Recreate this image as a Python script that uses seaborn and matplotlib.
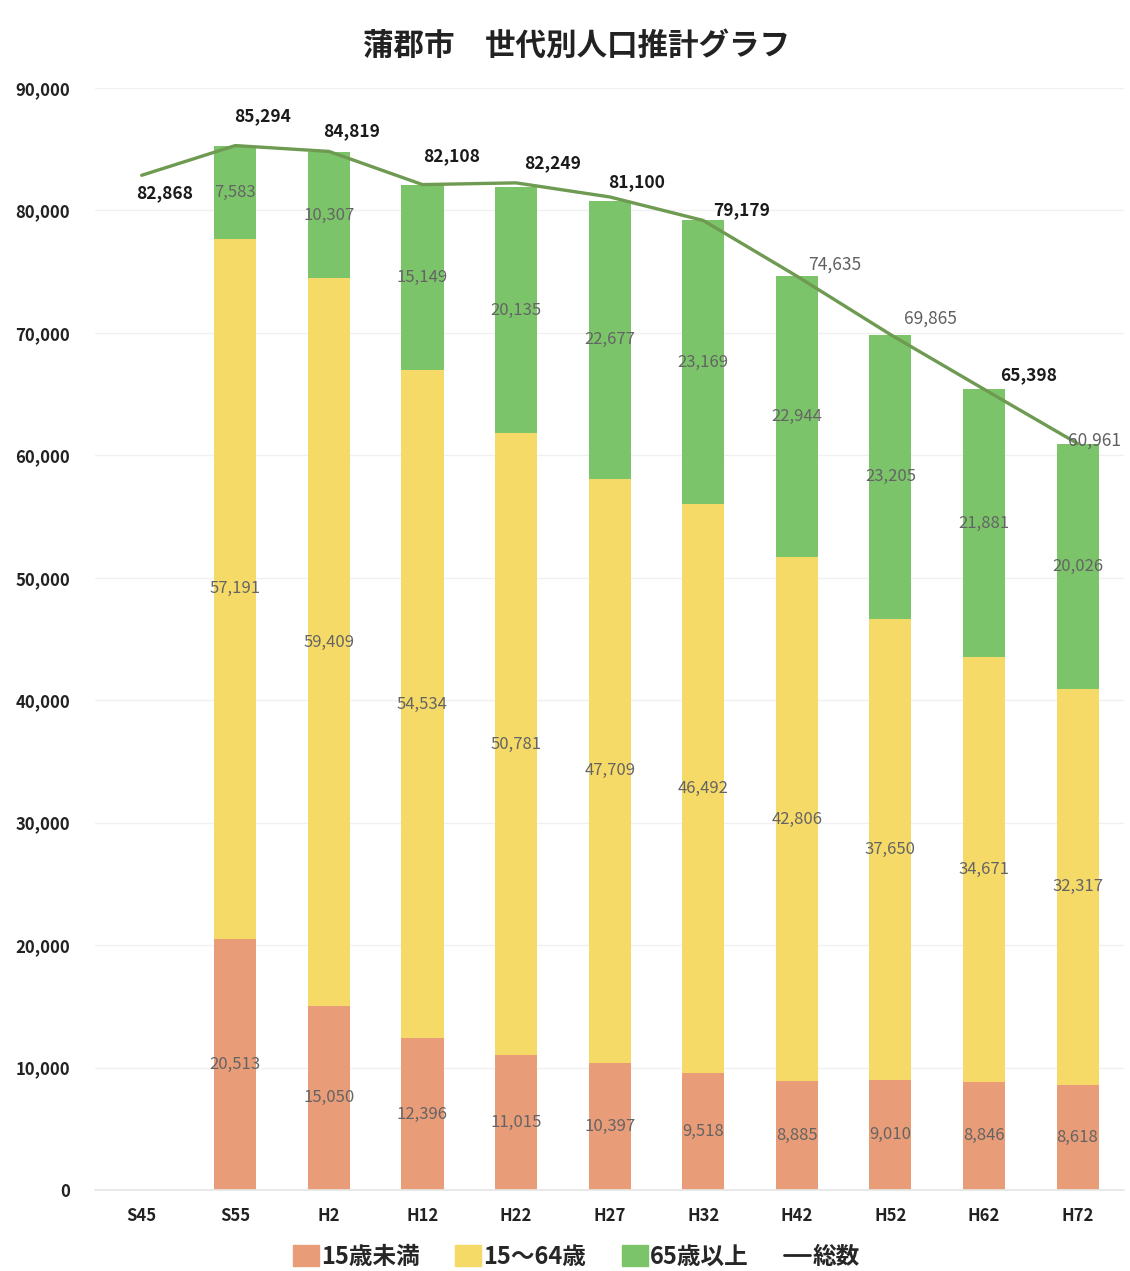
import numpy as np
import pandas as pd
import seaborn as sns
import matplotlib as mpl
mpl.use('Agg')
import matplotlib.pyplot as plt
from matplotlib.patches import Patch
from matplotlib.lines import Line2D

# data
years = ['S45', 'S55', 'H2', 'H12', 'H22', 'H27', 'H32', 'H42', 'H52', 'H62', 'H72']
under15 = [np.nan, 20513, 15050, 12396, 11015, 10397, 9518, 8885, 9010, 8846, 8618]
age15_64 = [np.nan, 57191, 59409, 54534, 50781, 47709, 46492, 42806, 37650, 34671, 32317]
over65 = [np.nan, 7583, 10307, 15149, 20135, 22677, 23169, 22944, 23205, 21881, 20026]
totals = [82868, 85294, 84819, 82108, 82249, 81100, 79179, 74635, 69865, 65398, 60961]
# label offsets of the total labels (pixels) and whether printed bold/dark
total_offsets = [(23, -18), (27, 29), (23, 20), (29, 28), (37, 20), (27, 15),
                 (38, 10), (38, 11), (40, 16), (45, 14), (17, 3)]
total_dark = [True, True, True, True, True, True, True, False, False, True, False]

c_orange = '#E99C78'
c_yellow = '#F6DA68'
c_green = '#7CC46A'
c_line = '#6E9A52'

sns.set_theme(style='white')
plt.rcParams['font.family'] = ['Noto Sans CJK JP', 'DejaVu Sans']

df = pd.DataFrame({'year': years, 'u15': under15, 'mid': age15_64, 'o65': over65})
df['c2'] = df['u15'] + df['mid']
df['c3'] = df['c2'] + df['o65']

fig = plt.figure(figsize=(11.3, 12.71), dpi=100)
ax = fig.add_axes([0.084, 0.0637, 0.911, 0.8671])

# stacked bars: draw cumulative heights from the top down
for ycol, col in [('c3', c_green), ('c2', c_yellow), ('u15', c_orange)]:
    sns.barplot(data=df.dropna(), x='year', y=ycol, order=years, color=col,
                width=0.45, saturation=1, linewidth=0, ax=ax)

sns.lineplot(x=np.arange(len(years)), y=totals, color=c_line, linewidth=2.4, ax=ax)

# segment labels
seg_kw = dict(ha='center', va='center', fontsize=12, color='#646464')
for i, r in df.iterrows():
    if np.isnan(r['u15']):
        continue
    ax.text(i, r['u15'] / 2, f"{int(r['u15']):,}", **seg_kw)
    ax.text(i, r['u15'] + r['mid'] / 2, f"{int(r['mid']):,}", **seg_kw)
    ax.text(i, r['c2'] + r['o65'] / 2, f"{int(r['o65']):,}", **seg_kw)

for i, (t, off, dark) in enumerate(zip(totals, total_offsets, total_dark)):
    ax.annotate(f"{t:,}", (i, t), xytext=off, textcoords='offset pixels',
                ha='center', va='center', fontsize=12.5,
                fontweight='bold' if dark else 'normal',
                color='#1a1a1a' if dark else '#606060')

ax.set_ylim(0, 90000)
ax.set_xlim(-0.5, len(years) - 0.5)
ax.set_yticks(np.arange(0, 90001, 10000))
ax.set_yticklabels([f"{v:,}" for v in range(0, 90001, 10000)])
ax.yaxis.grid(True, color='#f0f0f0', linewidth=1)
ax.set_axisbelow(True)
ax.set_xlabel('')
ax.set_ylabel('')
ax.tick_params(axis='y', length=0, pad=18, labelsize=12, labelcolor='#222222')
ax.tick_params(axis='x', length=0, pad=12, labelsize=12, labelcolor='#222222')
for lab in ax.get_yticklabels() + ax.get_xticklabels():
    lab.set_fontweight('bold')
for s in ['top', 'right', 'left']:
    ax.spines[s].set_visible(False)
ax.spines['bottom'].set_color('#e6e6e6')

fig.text(0.51, 0.964, '蒲郡市\u3000世代別人口推計グラフ', ha='center', va='center',
         fontsize=22, fontweight='bold', color='#222222')

handles = [Patch(color=c_orange), Patch(color=c_yellow), Patch(color=c_green),
           Line2D([0], [0], color='#222222', linewidth=2)]
fig.legend(handles, ['15歳未満', '15～64歳', '65歳以上', '総数'], loc='center',
           bbox_to_anchor=(0.51, 0.011), ncol=4, frameon=False, handlelength=1.1,
           handleheight=1.0, handletextpad=0.1, columnspacing=1.5,
           prop={'size': 17, 'weight': 'bold'})

fig.savefig('out.png', dpi=100, facecolor='white')
